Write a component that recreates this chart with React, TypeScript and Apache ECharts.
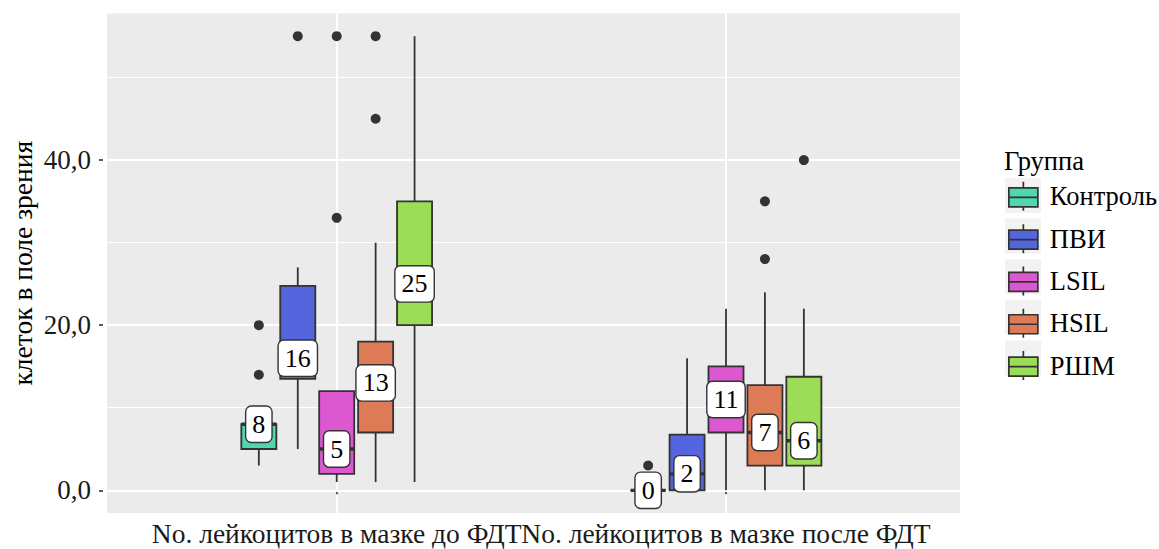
import React, { useEffect, useRef } from 'react';
import * as echarts from 'echarts';

// ---------- data ----------
const categories = ['No. лейкоцитов в мазке до ФДТ', 'No. лейкоцитов в мазке после ФДТ'];
const groups = ['Контроль', 'ПВИ', 'LSIL', 'HSIL', 'РШМ'];
const colors = ['#4FD8AF', '#5465DE', '#DC58D1', '#DC7B55', '#9CDC56'];

// [lower whisker, Q1, median, Q3, upper whisker] for each category
const kontrolStats = [[3, 5, 8, 8, 8], [0, 0, 0, 0, 0]];
const pviStats = [[5, 13.5, 16, 24.75, 27], [0, 0, 2, 6.75, 16]];
const lsilStats = [[1, 2, 5, 12, 12], [0, 7, 11, 15, 22]];
const hsilStats = [[1, 7, 13, 18, 30], [0, 3, 7, 12.75, 24]];
const rshmStats = [[1, 20, 25, 35, 55], [0, 3, 6, 13.75, 22]];

// outliers for each category
const kontrolOut = [[14, 20], [3]];
const pviOut = [[55], []];
const lsilOut = [[33, 55], []];
const hsilOut = [[45, 55], [28, 35]];
const rshmOut = [[], [40]];

const yTicks = [0, 20, 40];
const yMin = -2.75;
const yMax = 57.75;

const allStats = [kontrolStats, pviStats, lsilStats, hsilStats, rshmStats];
const allOut = [kontrolOut, pviOut, lsilOut, hsilOut, rshmOut];

// ---------- layout ----------
const W = 1159;
const H = 549;
const FONT = 'Liberation Serif, Times New Roman, serif';
const panelLeft = 103;
const panelRight = 960;
const panelTop = 13.5;
const panelBottom = 513;
const cat0X = 336.7;
const cat1X = 726;
const DODGE = 0.1;
const BOXW = 0.09;
const pxPerUnit = (panelBottom - panelTop) / (yMax - yMin);
const zeroPx = panelBottom + yMin * pxPerUnit;
const px40 = zeroPx - 40 * pxPerUnit;
const px50 = zeroPx - 50 * pxPerUnit;

const legendLeft = 1008;
const legendTop = 181;
const legendItem = 29;
const legendStep = 40.6;

function makeRender(gi: number) {
  return (params: any, api: any) => {
    const ci = api.value(0);
    const band = api.size([1, 0])[0];
    const cx = api.coord([ci, 0])[0] + (gi - 2) * DODGE * band;
    const w = BOXW * band;
    const py = (v: number) => api.coord([ci, v])[1];
    const lo = api.value(1);
    const q1 = api.value(2);
    const med = api.value(3);
    const q3 = api.value(4);
    const hi = api.value(5);
    const line = { stroke: '#333333', lineWidth: 1.8 };
    const children: any[] = [
      { type: 'line', shape: { x1: cx, y1: py(lo), x2: cx, y2: py(q1) }, style: line },
      { type: 'line', shape: { x1: cx, y1: py(q3), x2: cx, y2: py(hi) }, style: line },
      {
        type: 'rect',
        shape: { x: cx - w / 2, y: py(q3), width: w, height: py(q1) - py(q3) },
        style: { fill: colors[gi], stroke: '#333333', lineWidth: 1.8 },
      },
      {
        type: 'line',
        shape: { x1: cx - w / 2, y1: py(med), x2: cx + w / 2, y2: py(med) },
        style: { stroke: '#333333', lineWidth: 3.3 },
      },
    ];
    allOut[gi][ci].forEach((v: number) => {
      children.push({ type: 'circle', shape: { cx, cy: py(v), r: 5 }, style: { fill: '#333333' } });
    });
    children.push({
      type: 'text',
      x: cx,
      y: py(med),
      z2: 20,
      style: {
        text: String(med),
        fill: '#000000',
        fontSize: 26,
        fontFamily: FONT,
        lineHeight: 26,
        align: 'center',
        verticalAlign: 'middle',
        backgroundColor: '#FFFFFF',
        borderColor: '#333333',
        borderWidth: 1.4,
        borderRadius: 5,
        padding: [4.5, 6, 4.5, 6],
      },
    });
    return { type: 'group', children };
  };
}

export default function App() {
  const ref = useRef<HTMLDivElement>(null);
  useEffect(() => {
    if (!ref.current) return;
    document.body.style.margin = '0';
    const chart = echarts.init(ref.current, undefined, { renderer: 'svg' });
    const series: any[] = groups.map((g, gi) => ({
      type: 'custom',
      name: g,
      coordinateSystem: 'cartesian2d',
      xAxisIndex: 2,
      yAxisIndex: 2,
      clip: false,
      itemStyle: { color: colors[gi] },
      encode: { x: 0, y: [1, 2, 3, 4, 5] },
      data: allStats[gi].map((s, ci) => [ci, ...s]),
      renderItem: makeRender(gi),
    }));
    const option: any = {
      animation: false,
      backgroundColor: '#FFFFFF',
      textStyle: { fontFamily: FONT },
      title: {
        text: 'Группа',
        left: 1004,
        top: 147,
        padding: 0,
        textStyle: { fontFamily: FONT, fontSize: 26.5, fontWeight: 'normal', color: '#000000' },
      },
      legend: {
        orient: 'vertical',
        left: legendLeft,
        top: legendTop,
        padding: 0,
        itemWidth: legendItem,
        itemHeight: legendItem,
        itemGap: legendStep - legendItem,
        icon: 'path://M0,6L29,6L29,25L0,25Z M0,15.5L29,15.5 M14.5,0L14.5,6 M14.5,25L14.5,29',
        itemStyle: { borderColor: '#333333', borderWidth: 1.7 },
        textStyle: {
          fontFamily: FONT,
          fontSize: 26.5,
          lineHeight: legendItem,
          color: '#000000',
          padding: [0, 0, 0, 7],
        },
        data: groups,
      },
      graphic: groups.map((g, i) => ({
        type: 'rect',
        z: -1,
        silent: true,
        shape: {
          x: legendLeft - 3,
          y: legendTop + i * legendStep - 3,
          width: legendItem + 7,
          height: legendItem + 6,
        },
        style: { fill: '#F2F2F2' },
      })),
      grid: [
        {
          left: panelLeft,
          right: W - panelRight,
          top: panelTop,
          bottom: H - panelBottom,
          show: true,
          backgroundColor: '#EBEBEB',
          borderWidth: 0,
        },
        { left: panelLeft, right: W - panelRight, top: px40, bottom: H - zeroPx },
        { left: cat0X, right: W - cat1X, top: panelTop, bottom: H - panelBottom },
        { left: panelLeft, right: W - panelRight, top: px50, bottom: H - zeroPx },
      ],
      xAxis: [
        { gridIndex: 0, type: 'value', show: false },
        { gridIndex: 1, type: 'value', show: false },
        {
          gridIndex: 2,
          type: 'category',
          data: categories,
          boundaryGap: false,
          axisLine: { show: false },
          axisTick: { show: true, length: 4, interval: 0, lineStyle: { color: '#333333', width: 1.6 } },
          axisLabel: { interval: 0, margin: 6, fontFamily: FONT, fontSize: 27.5, color: '#1A1A1A' },
          splitLine: { show: true, interval: 0, lineStyle: { color: '#FFFFFF', width: 2 } },
        },
        { gridIndex: 3, type: 'value', show: false },
      ],
      yAxis: [
        {
          gridIndex: 0,
          type: 'value',
          min: yMin,
          max: yMax,
          name: 'клеток в поле зрения',
          nameLocation: 'middle',
          nameRotate: 90,
          nameGap: 71,
          nameTextStyle: { fontFamily: FONT, fontSize: 27.5, color: '#000000' },
          axisLine: { show: false },
          axisTick: { show: false },
          axisLabel: { show: false },
          splitLine: { show: false },
        },
        {
          gridIndex: 1,
          type: 'value',
          min: 0,
          max: 40,
          interval: 20,
          z: 1,
          axisLine: { show: false },
          axisTick: { show: true, length: 4, lineStyle: { color: '#333333', width: 1.6 } },
          axisLabel: {
            margin: 12,
            fontFamily: FONT,
            fontSize: 27,
            color: '#1A1A1A',
            formatter: (v: number) => (yTicks.includes(v) ? v.toFixed(1).replace('.', ',') : ''),
          },
          splitLine: { show: true, lineStyle: { color: '#FFFFFF', width: 2 } },
        },
        { gridIndex: 2, type: 'value', min: yMin, max: yMax, show: false },
        {
          gridIndex: 3,
          type: 'value',
          min: 0,
          max: 50,
          interval: 10,
          axisLine: { show: false },
          axisTick: { show: false },
          axisLabel: { show: false },
          splitLine: { show: true, lineStyle: { color: '#FFFFFF', width: 1 } },
        },
      ],
      series,
    };
    chart.setOption(option);
    return () => chart.dispose();
  }, []);
  return <div ref={ref} style={{ width: W, height: H }} />;
}
